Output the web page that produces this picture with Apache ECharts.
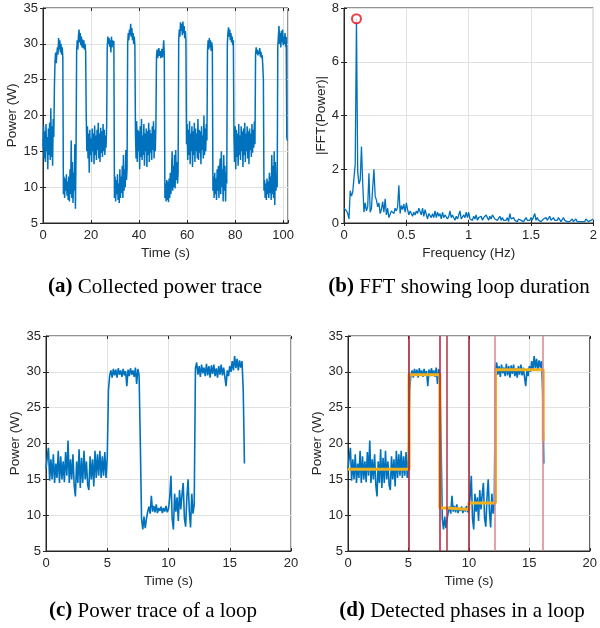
<!DOCTYPE html>
<html>
<head>
<meta charset="utf-8">
<script src="https://cdn.jsdelivr.net/npm/echarts@6/dist/echarts.min.js"></script>
<style>
html, body { margin: 0; padding: 0; background: #fff; }
#chart { width: 600px; height: 628px; }
</style>
</head>
<body>
<div id="chart"></div>
<script>
//*************************************************************************************************data
// (a) full power trace, one sample every traceStep seconds
var traceStep = 0.25;
var traceA = [
    15.5, 18.5, 14, 17.8, 13.5, 18.8, 15, 17, 12.5, 18.2, 14.5, 19, 13.8, 21, 14.2, 18.5, 13, 19.5, 17, 24,
    27.5, 28.8, 27.3, 28.5, 29.5, 28.5, 30.8, 29.2, 30.5, 28.8, 30, 28.5, 29.5, 28.2,
    9, 11.5, 8.5, 11.2, 9.5, 11.8, 8.8, 10.8, 8.2, 11.5, 8, 12.5, 9, 16.5, 8.5, 13.5, 7.8, 12, 9.5, 16, 7, 14.5,
    29, 30.5, 29.2, 31, 32, 30.2, 31.5, 29.8, 31, 29.5, 30.6, 29.4, 30.5, 29.2, 30, 29,
    20, 15, 18.5, 14, 17.5, 12, 18, 14.5, 16.8, 13.5, 18.2, 15, 17.5, 13.2, 18.6, 14.5, 17.2, 13.8, 18, 15.2,
    19, 14, 17.5, 13.5, 18.3, 14.8, 17.8, 14.2, 18.8, 15, 18, 14.5, 17.2, 15.5, 18.5,
    29.5, 31, 30, 30.8, 29.6, 30.5, 28.8, 31, 29.5, 30.5, 29.8, 30.4,
    8.5, 11.5, 8, 11, 9, 11.8, 8.2, 10.5, 7.8, 12.5, 8.5, 11.5, 9.2, 13, 8.5, 14.5, 9.5, 12.5, 10, 15.2, 11, 12.5,
    30, 31.5, 30.5, 32, 31.2, 32.8, 31, 32.2, 30.5, 31.5, 30, 31, 29.8,
    17.5, 14, 19.2, 13.5, 18, 15, 17.8, 12.5, 18.5, 14.2, 19.5, 13.8, 17.2, 14.5, 18.8, 13, 17.5, 15, 18.2, 12.8,
    17.8, 14.5, 19, 13.5, 18, 14.8, 17.5, 13.8, 18.5, 15.2, 19.2, 14, 18, 15, 18.5,
    28.2, 29.2, 28, 28.8, 29.4, 28.3, 29, 28, 28.7, 29.3, 28.1, 29, 30.5, 28.5,
    8.5, 10.5, 8, 11, 8.2, 10.8, 7.9, 11.2, 8.5, 12, 9, 11.5, 15, 9.5, 13, 10, 14.5, 9.8, 15.2, 11, 13.5, 10.5, 12,
    30.5, 32, 31, 33, 31.8, 32.8, 31.2, 33.1, 31.5, 32.5, 30.8, 31.8, 30.5,
    16, 18.8, 13.8, 18, 14.5, 19.2, 13.2, 17.5, 15, 18.5, 12.8, 17.8, 14.5, 19, 13.5, 18.2, 15, 17.5, 14, 19.5,
    13.8, 18, 14.8, 17.8, 13.2, 18.5, 15.2, 17.2, 14, 20, 14.5, 18.2, 15, 18.8, 16.5,
    29, 30.5, 29.2, 30.8, 29.5, 30.5, 29, 30.2, 29.5,
    9.5, 11.5, 8.5, 12, 9, 11.2, 8.2, 12.5, 9.5, 13, 8.5, 12, 14, 9, 15, 10, 12.5, 8, 14.5, 9.5, 13, 8, 12, 10.5,
    30, 31.5, 32.3, 31, 32, 30.5, 31.5, 30.2, 31, 29.8, 30.5,
    17, 13.5, 18.5, 12.5, 18, 14.2, 17.5, 13, 18.8, 14.5, 17.2, 13.8, 18.5, 15, 17.8, 12.8, 18.2, 14.5, 19, 13.5,
    17.5, 15, 18.5, 14, 17.8, 13.2, 18.2, 15.2, 17.5, 14.2, 18.8, 14.8, 18, 15.5, 19.2, 16,
    28.5, 29.5, 28.6, 29.2, 28.4, 29, 28.6, 29.4, 28.2, 28.9, 28, 28.4, 27, 25,
    9.5, 11, 8.5, 10.5, 8.2, 11.2, 9, 10.8, 8.5, 12, 9.2, 11.5, 8.2, 14.5, 9, 13, 8.5, 15, 7.5, 13.5, 9.5, 11.5, 10,
    29.5, 31, 32.5, 30, 31.5, 29.5, 31.8, 30.2, 32, 29.8, 31, 30, 31.5, 29.6, 31,
    17, 16.5
];

// (b) FFT magnitude, one bin every fftStep Hz
var fftStep = 0.01;
var fftMag = [
    0.55, 0.6, 0.45, 0.35, 0.15, 1.2, 1.0, 1.15, 1.2, 2.2,
    7.6, 1.9, 1.45, 1.6, 2.85, 1.5, 0.4, 0.75, 0.45, 0.6,
    1.85, 0.4, 0.55, 1.3, 2.0, 1.0, 0.85, 0.6, 0.75, 0.35,
    0.5, 0.8, 0.4, 0.9, 0.3, 0.55, 0.2, 0.15, 0.45, 0.5,
    0.35, 0.55, 0.45, 0.6, 1.4, 0.35, 0.65, 0.5, 0.7, 0.4,
    0.75, 0.5, 0.3, 0.45, 0.35, 0.25, 0.4, 0.3, 0.45, 0.35,
    0.55, 0.6, 0.3, 0.55, 0.25, 0.5, 0.45, 0.15, 0.35, 0.4,
    0.2, 0.35, 0.2, 0.45, 0.2, 0.4, 0.25, 0.35, 0.15, 0.4,
    0.2, 0.3, 0.35, 0.15, 0.25, 0.45, 0.2, 0.3, 0.35, 0.1,
    0.25, 0.15, 0.3, 0.45, 0.15, 0.1, 0.3, 0.2, 0.4, 0.2,
    0.4, 0.15, 0.2, 0.1, 0.25, 0.15, 0.3, 0.1, 0.2, 0.15,
    0.25, 0.1, 0.2, 0.15, 0.3, 0.2, 0.1, 0.25, 0.15, 0.3,
    0.25, 0.15, 0.2, 0.1, 0.15, 0.25, 0.1, 0.2, 0.1, 0.15,
    0.1, 0.2, 0.05, 0.35, 0.15, 0.1, 0.2, 0.1, 0.15, 0.05,
    0.15, 0.2, 0.1, 0.15, 0.05, 0.1, 0.2, 0.1, 0.15, 0.1,
    0.2, 0.1, 0.15, 0.35, 0.1, 0.2, 0.1, 0.15, 0.05, 0.1,
    0.15, 0.1, 0.2, 0.1, 0.05, 0.25, 0.1, 0.15, 0.2, 0.1,
    0.15, 0.1, 0.2, 0.15, 0.05, 0.1, 0.2, 0.1, 0.15, 0.05,
    0.1, 0.05, 0.1, 0.15, 0.05, 0.1, 0.15, 0.05, 0.1, 0.05,
    0.1, 0.05, 0.1, 0.05, 0.15, 0.1, 0.05, 0.05, 0.1, 0.05,
    0.15
];
var fftPeak = [0.1, 7.6];

// (c)/(d) one loop of the trace, one sample every loopStep seconds
var loopStep = 0.1;
var traceLoop = [
    16.5, 18, 19.4, 14.8, 17.8, 15, 18.5, 14.5, 17.2, 15.2,
    19, 14.5, 18.2, 15, 17.5, 14.6, 18.8, 15.5, 20.4, 14.5,
    17.8, 15, 18.5, 14.2, 12.6, 17.5, 14.5, 19.2, 13.8, 18,
    14.5, 19, 15, 17.5, 14.2, 13.5, 18.2, 15, 17.8, 14,
    19, 15.2, 18.5, 15.5, 19, 15.2, 18.2, 15.5, 18.8, 15.2,
    18,
    27.5, 29.5, 30.2, 29.2, 30.4, 29.5, 30.3, 29.2, 30.5, 29.6,
    30.2, 29.3, 30.4, 29.5, 30.1, 28, 30.3, 29.4, 30.5, 29.6,
    30.2, 29.3, 30.6, 28.3, 30.4, 29.5,
    20,
    9.5, 8, 9.8, 8.2, 9.5,
    10.5, 11.2, 10.2, 12.7, 10.5, 11.3, 10.4, 11.5, 10.3, 11,
    10.6, 11.2, 10.3, 11, 10.5, 11.3, 10.4, 10.9,
    12.5, 15.5, 9.5, 8, 13, 10.5, 12.5, 9.2, 13.5, 10.8,
    12.8, 14.5, 9.5, 8.4, 12.5, 15, 10.5, 8.3, 13, 10.2,
    11.5,
    30.5, 31.3, 29.6, 30.8, 29.3, 31, 29.8, 30.6, 29.4, 31.1,
    29.5, 30.8, 29.2, 30.9, 29.7, 31, 29.4, 30.5, 29.2, 30.8,
    29.6, 31, 29.5, 30.6, 29.3, 28, 30.2, 29.4, 30.8, 30,
    31.5, 30.2, 32.2, 30.5, 31.8, 30.2, 31.6, 30.6, 31.5,
    27.5, 17.2
];

// (d) detected phases: start time and mean power of each phase
var phaseStart = [0, 5.05, 7.6, 8.2, 10.0, 12.2];
var phaseLevel = [16.4, 29.6, 11.0, 10.8, 11.7, 30.3];
var phaseEndTime = 16.15;
var phaseEndLevel = 20.3;
var boundaryTimes = [5.05, 7.6, 8.2, 10.0, 12.15, 16.15];

var captionLabels = ['(a)', '(b)', '(c)', '(d)'];
var captionTexts = ['Collected power trace', 'FFT showing loop duration', 'Power trace of a loop', 'Detected phases in a loop'];

//*************************************************************************************************helpers
var ink = '#262626';
var blue = '#0072BD';
var sans = '"Liberation Sans", Arial, sans-serif';
var serif = '"Liberation Serif", "DejaVu Serif", serif';
var boundaryColors = ['#A2142F', '#C21A35', '#B0304A', '#A2142F', '#D6838F', '#D6838F'];

function toPairs(values, step) {
    return values.map(function (v, i) {
        return [Math.round(i * step * 1000) / 1000, v];
    });
}

function mainX(g, min, max, interval, name, fmt) {
    return {
        type: 'value', gridIndex: g, min: min, max: max, interval: interval,
        name: name, nameLocation: 'middle', nameGap: 23,
        nameTextStyle: { color: ink, fontSize: 13.5, fontFamily: sans },
        axisLine: { show: true, lineStyle: { color: ink, width: 1 } },
        axisTick: { show: true, inside: true, length: 3, lineStyle: { color: ink } },
        axisLabel: { color: ink, fontSize: 13, fontFamily: sans, margin: 6, formatter: fmt },
        splitLine: { show: true, lineStyle: { color: '#E1E1E1', width: 1 } }
    };
}

function mainY(g, min, max, interval, name, gap) {
    return {
        type: 'value', gridIndex: g, min: min, max: max, interval: interval,
        name: name, nameLocation: 'middle', nameGap: gap,
        nameTextStyle: { color: ink, fontSize: 13.5, fontFamily: sans },
        axisLine: { show: true, lineStyle: { color: ink, width: 1 } },
        axisTick: { show: true, inside: true, length: 3, lineStyle: { color: ink } },
        axisLabel: { color: ink, fontSize: 13, fontFamily: sans, margin: 5 },
        splitLine: { show: true, lineStyle: { color: '#E1E1E1', width: 1 } }
    };
}

// mirror axes, only for the inner ticks on top / right like matlab's box
function mirror(g, min, max, interval, pos) {
    return {
        type: 'value', gridIndex: g, min: min, max: max, interval: interval, position: pos,
        axisLine: { show: false },
        axisTick: { show: true, inside: true, length: 3, lineStyle: { color: ink } },
        axisLabel: { show: false },
        splitLine: { show: false }
    };
}

//*************************************************************************************************draw
var chart = echarts.init(document.getElementById('chart'), null, { renderer: 'canvas' });

var stepData = phaseStart.map(function (s, i) { return [s, phaseLevel[i]]; });
stepData.push([phaseEndTime, phaseLevel[phaseLevel.length - 1]]);
stepData.push([phaseEndTime, phaseEndLevel]);

var grids = [
    { left: 43, top: 8, width: 245, height: 215 },
    { left: 344, top: 8, width: 254, height: 215 },
    { left: 46, top: 336, width: 245, height: 215 },
    { left: 348, top: 336, width: 244, height: 215 }
];
grids.forEach(function (g) {
    g.show = true;
    g.borderColor = ink;
    g.borderWidth = 1;
    g.backgroundColor = 'transparent';
});

var captionPos = [[155, 287], [459, 287], [153, 611], [462, 611]];
var graphics = captionTexts.map(function (t, i) {
    return {
        type: 'text', x: captionPos[i][0], y: captionPos[i][1],
        style: {
            text: '{b|' + captionLabels[i] + '} ' + t,
            fill: '#000', fontSize: 21, fontFamily: serif,
            align: 'center', verticalAlign: 'middle',
            rich: { b: { fontWeight: 'bold', fontSize: 21, fontFamily: serif, fill: '#000' } }
        }
    };
});

var option = {
    animation: false,
    textStyle: { fontFamily: sans },
    grid: grids,
    xAxis: [
        mainX(0, 0, 102, 20, 'Time (s)', function (v) { return v % 20 === 0 ? v : ''; }),
        mainX(1, 0, 2, 0.5, 'Frequency (Hz)'),
        mainX(2, 0, 20, 5, 'Time (s)'),
        mainX(3, 0, 20, 5, 'Time (s)'),
        mirror(0, 0, 102, 20, 'top'),
        mirror(1, 0, 2, 0.5, 'top'),
        mirror(2, 0, 20, 5, 'top'),
        mirror(3, 0, 20, 5, 'top')
    ],
    yAxis: [
        mainY(0, 5, 35, 5, 'Power (W)', 22),
        mainY(1, 0, 8, 2, '|FFT(Power)|', 16),
        mainY(2, 5, 35, 5, 'Power (W)', 22),
        mainY(3, 5, 35, 5, 'Power (W)', 22),
        mirror(0, 5, 35, 5, 'right'),
        mirror(1, 0, 8, 2, 'right'),
        mirror(2, 5, 35, 5, 'right'),
        mirror(3, 5, 35, 5, 'right')
    ],
    series: [
        {
            name: 'trace', type: 'line', xAxisIndex: 0, yAxisIndex: 0,
            data: toPairs(traceA, traceStep), showSymbol: false, sampling: false,
            lineStyle: { color: blue, width: 1.5 }, silent: true
        },
        {
            name: 'fft', type: 'line', xAxisIndex: 1, yAxisIndex: 1,
            data: toPairs(fftMag, fftStep), showSymbol: false,
            lineStyle: { color: blue, width: 1.3 }, silent: true
        },
        {
            name: 'peak', type: 'scatter', xAxisIndex: 1, yAxisIndex: 1, z: 5,
            data: [fftPeak], symbol: 'emptyCircle', symbolSize: 9,
            itemStyle: { color: '#E8101A', borderColor: '#E8101A', borderWidth: 1 }, silent: true
        },
        {
            name: 'loop', type: 'line', xAxisIndex: 2, yAxisIndex: 2,
            data: toPairs(traceLoop, loopStep), showSymbol: false,
            lineStyle: { color: blue, width: 1.6 }, silent: true
        },
        {
            name: 'loop phases', type: 'line', xAxisIndex: 3, yAxisIndex: 3, z: 2,
            data: toPairs(traceLoop, loopStep), showSymbol: false,
            lineStyle: { color: blue, width: 1.6 }, silent: true,
            markLine: {
                silent: true, symbol: 'none', label: { show: false },
                data: boundaryTimes.map(function (x, i) {
                    return { xAxis: x, lineStyle: { color: boundaryColors[i], width: 1.5, type: 'solid' } };
                })
            }
        },
        {
            name: 'phase mean', type: 'line', xAxisIndex: 3, yAxisIndex: 3, z: 4,
            data: stepData, step: 'end', showSymbol: false,
            lineStyle: { color: '#EDB120', width: 3 }, silent: true
        }
    ],
    graphic: graphics
};

chart.setOption(option);
</script>
</body>
</html>
